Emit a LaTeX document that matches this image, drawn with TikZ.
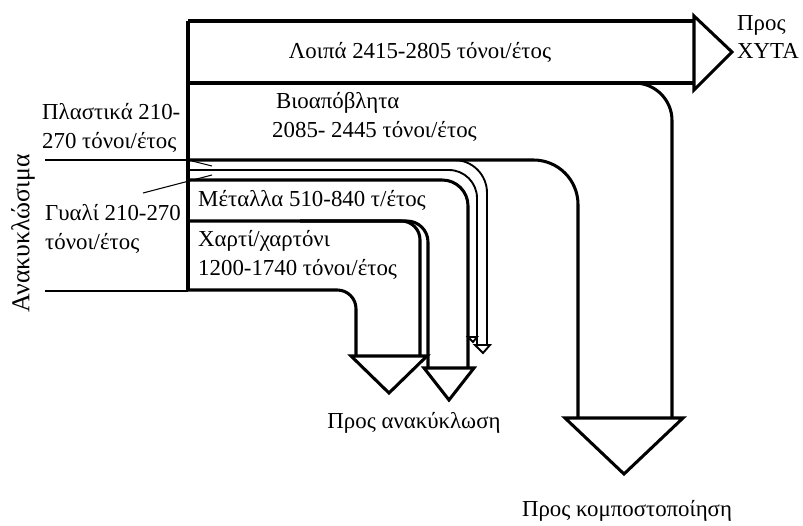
\documentclass[tikz,border=0pt]{standalone}
\usepackage{fontspec}
\setmainfont{Liberation Serif}
\usetikzlibrary{positioning}

\begin{document}
\begin{tikzpicture}[x=0.03cm, y=-0.03cm,
  flow/.style={line width=2.6pt, line join=miter},
  thinflow/.style={line width=1.6pt},
  guide/.style={line width=0.9pt},
  lbl/.style={font=\fontsize{19.5}{24}\selectfont, inner sep=0pt, align=left}]
\useasboundingbox (0,0) rectangle (803,525);

% rest, to landfill
\draw[flow] (188,21) -- (694,21);
\draw[flow] (188,83) -- (694,83);
\draw[flow] (694,16) -- (732,52) -- (694,90) -- cycle;
\draw[flow] (188,21) -- (188,290);

% biowaste, to composting
\draw[flow, rounded corners=32] (620,83) -- (672,83) -- (672,418);
\draw[flow, rounded corners=38] (188,160) -- (578,160) -- (578,418);
\draw[flow] (565,418) -- (683,418) -- (624,474) -- cycle;

% plastics and glass
\draw[thinflow, rounded corners=28] (400,160) -- (487,160) -- (487,345);
\draw[thinflow, rounded corners=24] (188,170) -- (477,170) -- (477,345);
\draw[thinflow] (475,345) -- (490,345) -- (483,353) -- cycle;
\draw[thinflow] (468,337) -- (477,337) -- (473,342) -- cycle;

% metals
\draw[flow, rounded corners=22] (188,180) -- (468,180) -- (468,368);
\draw[flow, rounded corners=18] (188,221) -- (428,221) -- (428,368);
\draw[flow] (424,368) -- (474,368) -- (449,400) -- cycle;

% paper
\draw[flow, rounded corners=16] (300,221) -- (420,221) -- (420,356);
\draw[flow, rounded corners=16] (188,290) -- (356,290) -- (356,356);
\draw[flow] (351,356) -- (427,356) -- (389,393) -- cycle;

% recyclables bracket
\draw[guide] (45,160) -- (188,160);
\draw[guide] (45,291) -- (188,291);
\node[lbl, rotate=90, font=\fontsize{22}{26}\selectfont] (recyc) at (23,233) {Ανακυκλώσιμα};

% labels
\node[lbl] (rest) at (420,52) {Λοιπά 2415-2805 τόνοι/έτος};
\node[lbl, anchor=west] (landfill) at (737,37) {\fontsize{19.5}{26}\selectfont Προς\\ΧΥΤΑ};
\node[lbl, anchor=west] (bio) at (272,117) {\,Βιοαπόβλητα\\2085- 2445 τόνοι/έτος};
\node[lbl, anchor=west] (plastic) at (42,128) {Πλαστικά 210-\\270 τόνοι/έτος};
\node[lbl, anchor=west] (glass) at (45,229) {Γυαλί 210-270\\τόνοι/έτος};
\node[lbl, anchor=west] (metal) at (198,200) {Μέταλλα 510-840 τ/έτος};
\node[lbl, anchor=west] (paper) at (198,255) {Χαρτί/χαρτόνι\\1200-1740 τόνοι/έτος};
\node[lbl] (torecyc) at (414,423) {Προς ανακύκλωση};
\node[lbl] (tocompost) at (627,511) {Προς κομποστοποίηση};

% pointers into the thin streams
\coordinate (glassTip) at (212,175);
\coordinate (plasticTip) at (212,166);
\draw[guide] (143,193) -- (glassTip);
\draw[guide] (192,161) -- (plasticTip);
\end{tikzpicture}
\end{document}
